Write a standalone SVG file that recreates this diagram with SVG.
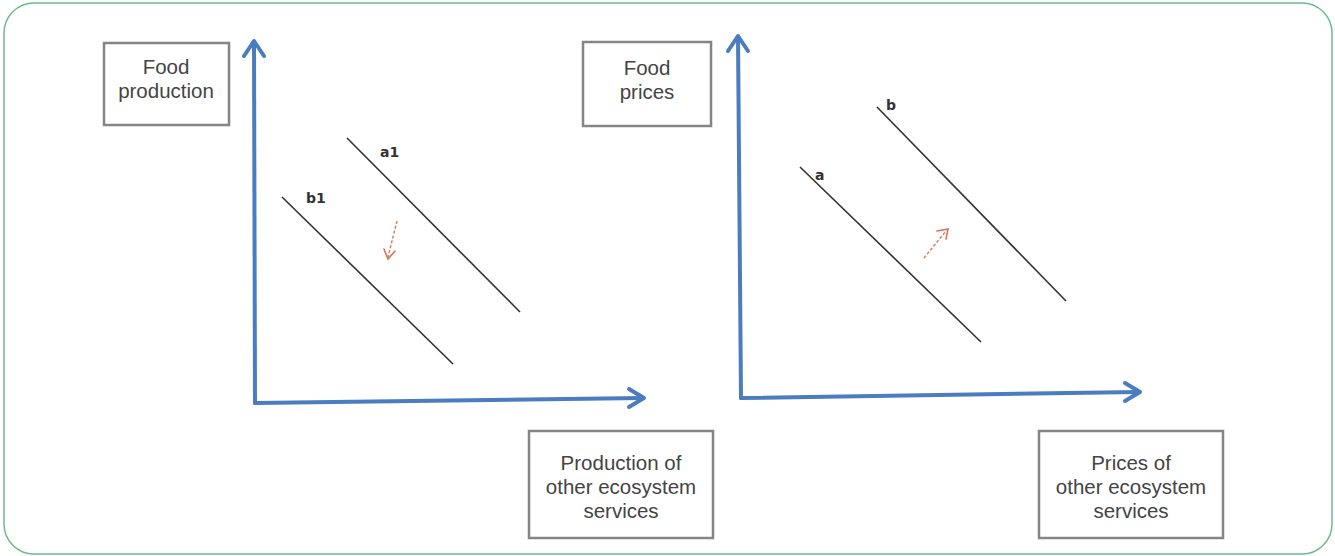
<svg xmlns="http://www.w3.org/2000/svg" width="1335" height="556" viewBox="0 0 1335 556">
<style>
.box{fill:#fff;stroke:#858585;stroke-width:2.5}
.lbl{font-family:"Liberation Sans",Arial,sans-serif;font-size:20.5px;fill:#444;text-anchor:middle}
.axis{fill:none;stroke:#4a7dbf;stroke-width:4;stroke-linecap:round;stroke-linejoin:round}
.curve{stroke:#333;stroke-width:1.6;fill:none}
.cl{font-family:"DejaVu Sans","Liberation Sans",sans-serif;font-size:14px;font-weight:bold;fill:#333}
.shift{stroke:#d9735a;stroke-width:1.4;stroke-dasharray:3 2;fill:none}
.shifthead{stroke:#d9735a;stroke-width:1.6;fill:none;stroke-linecap:round}
</style>
<rect x="4" y="3" width="1328" height="551" rx="30" ry="30" fill="#fff" stroke="#6dbb8a" stroke-width="1.5"/>
<g id="connectors">
<polyline class="axis" points="255,403 254,42"/>
<polyline class="axis" points="244,56 254,41 264,56"/>
<polyline class="axis" points="255,403 643,398"/>
<polyline class="axis" points="629,389 644,398 629,407"/>
<polyline class="axis" points="741,398 738,37"/>
<polyline class="axis" points="728,51 738,36 748,51"/>
<polyline class="axis" points="741,398 1139,392"/>
<polyline class="axis" points="1125,383 1140,392 1125,401"/>
<line class="curve" x1="347" y1="138" x2="520" y2="312"/>
<line class="curve" x1="282" y1="197" x2="453" y2="364"/>
<line class="curve" x1="800" y1="167" x2="981" y2="342"/>
<line class="curve" x1="877" y1="107" x2="1066" y2="301"/>
<line class="shift" x1="397" y1="221" x2="388" y2="257"/>
<polyline class="shifthead" points="384,249 388,259 395,251"/>
<line class="shift" x1="924" y1="258" x2="946" y2="231"/>
<polyline class="shifthead" points="937,231 948,229 946,239"/>
</g>
<g id="curve-labels">
<text class="cl" x="380" y="157">a1</text>
<text class="cl" x="306" y="203">b1</text>
<text class="cl" x="886" y="110">b</text>
<text class="cl" x="815" y="180">a</text>
</g>
<g id="food-production">
<rect class="box" x="104" y="43" width="125" height="82"/>
<text class="lbl" x="166" y="74">Food</text>
<text class="lbl" x="166" y="98">production</text>
</g>
<g id="food-prices">
<rect class="box" x="583" y="42" width="128" height="84"/>
<text class="lbl" x="647" y="75">Food</text>
<text class="lbl" x="647" y="99">prices</text>
</g>
<g id="production-other">
<rect class="box" x="529" y="431" width="184" height="107"/>
<text class="lbl" x="621" y="470">Production of</text>
<text class="lbl" x="621" y="494">other ecosystem</text>
<text class="lbl" x="621" y="518">services</text>
</g>
<g id="prices-other">
<rect class="box" x="1039" y="431" width="184" height="107"/>
<text class="lbl" x="1131" y="470">Prices of</text>
<text class="lbl" x="1131" y="494">other ecosystem</text>
<text class="lbl" x="1131" y="518">services</text>
</g>
</svg>
